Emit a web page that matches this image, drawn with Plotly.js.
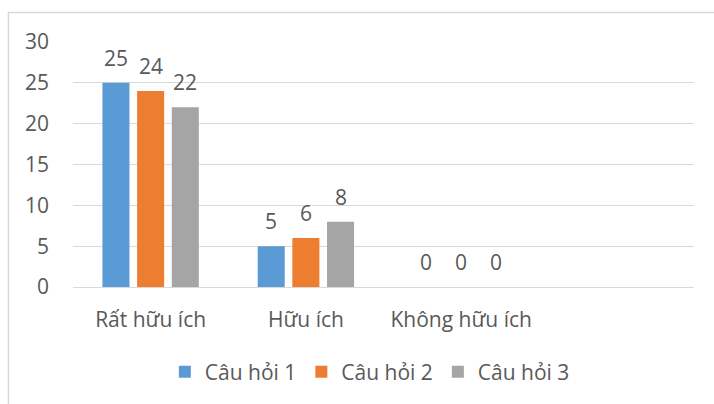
<!DOCTYPE html>
<html>
<head>
<meta charset="utf-8">
<script src="https://cdn.plot.ly/plotly-3.0.1.min.js"></script>
<style>html,body{margin:0;padding:0;background:#fff;}#chart{width:714px;height:404px;}</style>
</head>
<body>
<div id="chart"></div>
<script>
const categories = ["Rất hữu ích", "Hữu ích", "Không hữu ích"];
const seriesNames = ["Câu hỏi 1", "Câu hỏi 2", "Câu hỏi 3"];
const cau1 = [25, 5, 0];
const cau2 = [24, 6, 0];
const cau3 = [22, 8, 0];
const yTicks = [0, 5, 10, 15, 20, 25, 30];

const colors = ["#5B9BD5", "#ED7D31", "#A5A5A5"];
const series = [cau1, cau2, cau3];
const bargap = 0.33;
const FONT = "Open Sans, DejaVu Sans, sans-serif";
const TXT = "#595959";
const FS = 21;

const traces = series.map((vals, j) => ({
  type: "bar",
  name: seriesNames[j],
  x: categories,
  y: vals,
  marker: {color: colors[j]},
  hoverinfo: "skip"
}));

const slot = (1 - bargap) / 3;
const annotations = [];
series.forEach((vals, j) => {
  vals.forEach((v, i) => {
    annotations.push({
      x: i + (j - 1) * slot, y: v, xref: "x", yref: "y",
      text: String(v), showarrow: false, yshift: 25,
      font: {family: FONT, size: FS, color: TXT}
    });
  });
});

const layout = {
  width: 714, height: 404,
  margin: {l: 73, r: 20, t: 42, b: 117},
  paper_bgcolor: "#fff", plot_bgcolor: "#fff",
  barmode: "group", bargap: bargap, bargroupgap: 0.22,
  font: {family: FONT, size: FS, color: TXT},
  xaxis: {
    type: "category", range: [-0.5, 3.5],
    showgrid: false, zeroline: false, showline: false,
    ticks: "", ticklabelstandoff: 18,
    tickfont: {family: FONT, size: FS, color: TXT}
  },
  yaxis: {
    range: [0, 30], tickvals: yTicks, ticktext: yTicks.map(String),
    showgrid: true, gridcolor: "#D9D9D9", gridwidth: 1,
    zeroline: true, zerolinecolor: "#D9D9D9", zerolinewidth: 1,
    showline: false, ticks: "", ticklabelstandoff: 23,
    tickfont: {family: FONT, size: FS, color: TXT}
  },
  showlegend: true,
  legend: {
    orientation: "h", x: 0.478, xanchor: "center", y: -0.347, yanchor: "middle",
    font: {family: FONT, size: FS, color: TXT}, traceorder: "normal",
    itemclick: false
  },
  annotations: annotations,
  shapes: [{
    type: "rect", xref: "paper", yref: "paper",
    x0: -0.1039, x1: 1.2, y0: -0.6, y1: 1.1204,
    line: {color: "#D9D9D9", width: 1.5}, fillcolor: "rgba(0,0,0,0)", layer: "below"
  }]
};

Plotly.newPlot("chart", traces, layout, {staticPlot: true, displayModeBar: false});
</script>
</body>
</html>
